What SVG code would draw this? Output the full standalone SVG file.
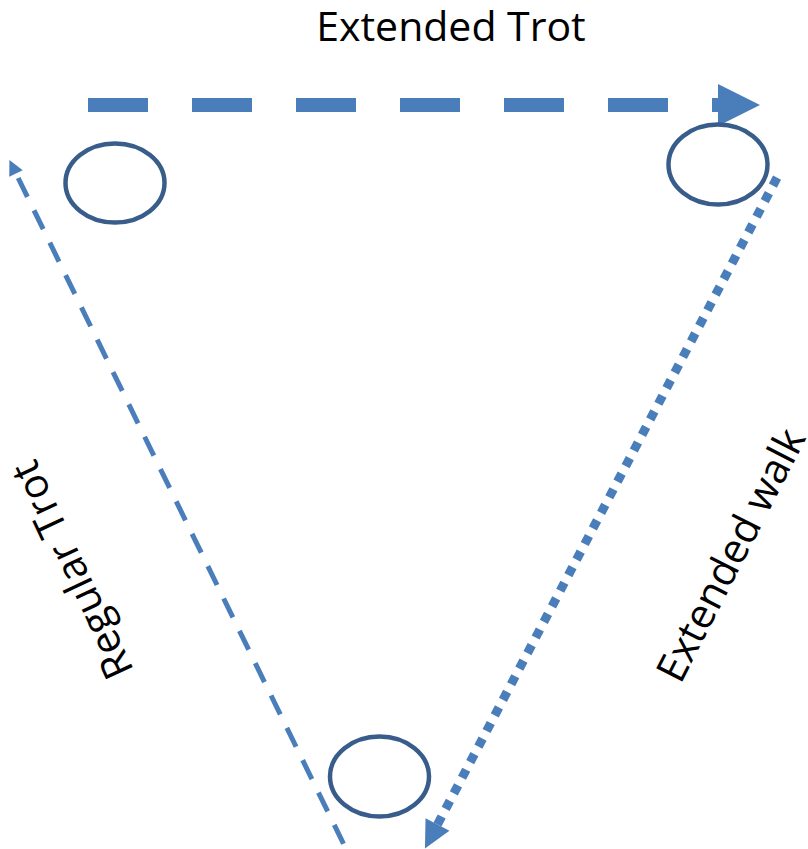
<svg xmlns="http://www.w3.org/2000/svg" width="808" height="849" viewBox="0 0 808 849">
  <style>
    .node ellipse { fill: none; stroke: #385D8A; stroke-width: 4.5; }
    .conn { fill: none; stroke: #4A7EBB; stroke-linecap: butt; }
    .lbl { font-family: "Open Sans", "Liberation Sans", sans-serif; font-size: 41px; fill: #000; text-anchor: middle; }
  </style>
  <defs>
    <marker id="ah" viewBox="0 0 3 3" markerUnits="strokeWidth" markerWidth="3" markerHeight="3" refX="0" refY="1.5" orient="auto-start-reverse" overflow="visible">
      <path d="M0,0 L3,1.5 L0,3 z" fill="#4A7EBB"/>
    </marker>
  </defs>
  <rect width="808" height="849" fill="#fff"/>

  <g id="connectors">
    <path id="extended-trot" class="conn" d="M88,105 L718,105" stroke-width="14" stroke-dasharray="60 44" marker-end="url(#ah)"/>
    <path id="regular-trot" class="conn" d="M16,173.5 L348,853" stroke-width="5" stroke-dasharray="21 15" stroke-dashoffset="31" marker-start="url(#ah)"/>
    <path id="extended-walk" class="conn" d="M437.5,824.5 L780,172" stroke-width="9" stroke-dasharray="9 8.6" marker-start="url(#ah)"/>
  </g>

  <g id="node-top-left" class="node"><ellipse cx="115" cy="183" rx="49.5" ry="39.5"/></g>
  <g id="node-top-right" class="node"><ellipse cx="718" cy="164.5" rx="49.5" ry="40"/></g>
  <g id="node-bottom" class="node"><ellipse cx="379.5" cy="776.5" rx="49.5" ry="40"/></g>

  <g id="labels">
    <text class="lbl" x="451" y="41">Extended Trot</text>
    <text class="lbl" transform="translate(72,570) rotate(-115)" y="14">Regular Trot</text>
    <text class="lbl" transform="translate(731,555) rotate(-63)" y="14">Extended walk</text>
  </g>
</svg>
